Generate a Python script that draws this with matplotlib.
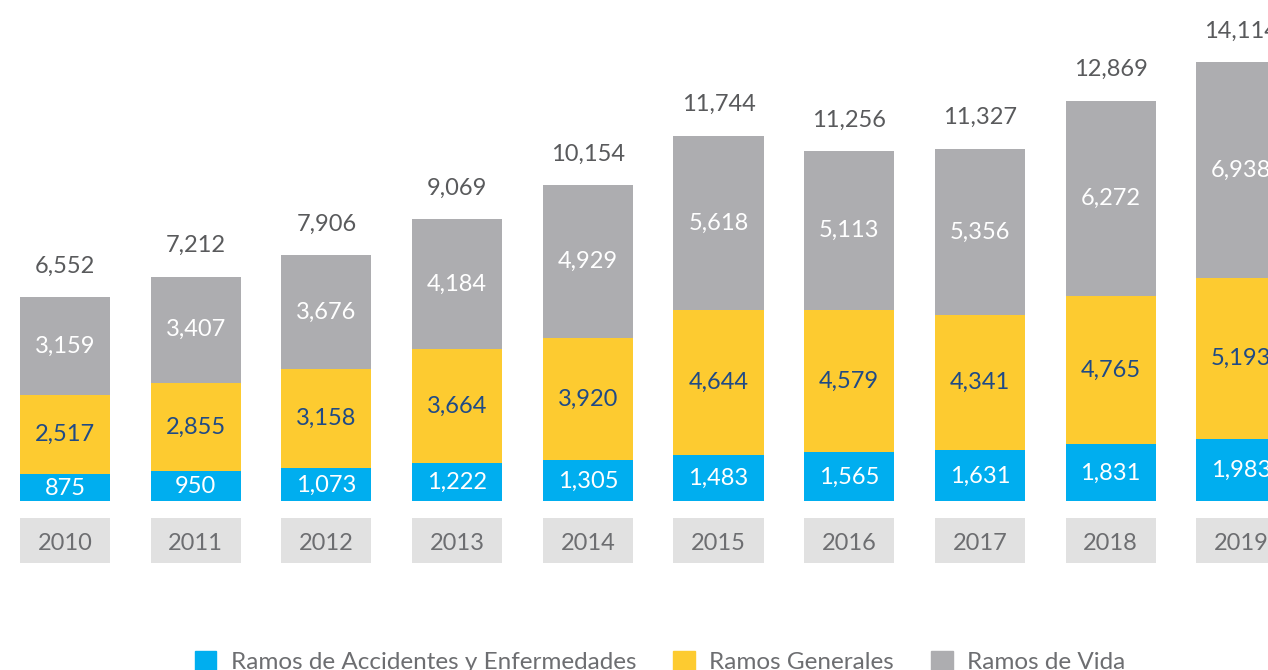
import matplotlib
matplotlib.use("Agg")
import matplotlib.pyplot as plt
from matplotlib.patches import Patch

plt.rcParams['font.family'] = ['Lato', 'DejaVu Sans']

years = ['2010', '2011', '2012', '2013', '2014', '2015', '2016', '2017', '2018', '2019']
accidentes = [875, 950, 1073, 1222, 1305, 1483, 1565, 1631, 1831, 1983]
generales = [2517, 2855, 3158, 3664, 3920, 4644, 4579, 4341, 4765, 5193]
vida = [3159, 3407, 3676, 4184, 4929, 5618, 5113, 5356, 6272, 6938]
totales = [6552, 7212, 7906, 9069, 10154, 11744, 11256, 11327, 12869, 14114]

c_blue = '#00aeef'
c_yellow = '#fdcb30'
c_gray = '#adadb0'
c_box = '#e1e1e1'

# pixel layout -> data units
px_x = 130.7
px_y = 32.15
W, H = 1268, 670
x0 = 65
base = 501

fig = plt.figure(figsize=(12.68, 6.70), dpi=100)
ax = fig.add_axes([0, 0, 1, 1])
ax.set_xlim(-x0 / px_x, (W - x0) / px_x)
ax.set_ylim(-(H - base) * px_y, base * px_y)
ax.axis('off')

x = list(range(len(years)))
w = 90 / px_x

ax.bar(x, accidentes, w, color=c_blue)
ax.bar(x, generales, w, bottom=accidentes, color=c_yellow)
bot2 = [a + g for a, g in zip(accidentes, generales)]
ax.bar(x, vida, w, bottom=bot2, color=c_gray)

# year boxes
ax.bar(x, 45 * px_y, w, bottom=-62 * px_y, color=c_box)

fs = 17
for i in x:
    ax.text(i, accidentes[i] / 2 - 20, f'{accidentes[i]:,}', ha='center', va='center',
            color='white', fontsize=fs)
    ax.text(i, accidentes[i] + generales[i] / 2, f'{generales[i]:,}', ha='center', va='center',
            color='#1f4a86', fontsize=fs)
    ax.text(i, bot2[i] + vida[i] / 2, f'{vida[i]:,}', ha='center', va='center',
            color='white', fontsize=fs)
    ax.text(i, totales[i] + 31 * px_y, f'{totales[i]:,}', ha='center', va='center',
            color='#595a5c', fontsize=fs)
    ax.text(i, -43 * px_y, years[i], ha='center', va='center',
            color='#6d6e71', fontsize=fs)

handles = [Patch(color=c_blue), Patch(color=c_yellow), Patch(color=c_gray)]
labels = ['Ramos de Accidentes y Enfermedades', 'Ramos Generales', 'Ramos de Vida']
leg = fig.legend(handles, labels, loc='center', bbox_to_anchor=(0.5205, 0.012), ncol=3,
                 frameon=False, fontsize=17.5, handlelength=0.9, handleheight=0.9,
                 columnspacing=1.5, handletextpad=0.6)
for t in leg.get_texts():
    t.set_color('#6d6e71')

fig.savefig('out.png', dpi=100)
